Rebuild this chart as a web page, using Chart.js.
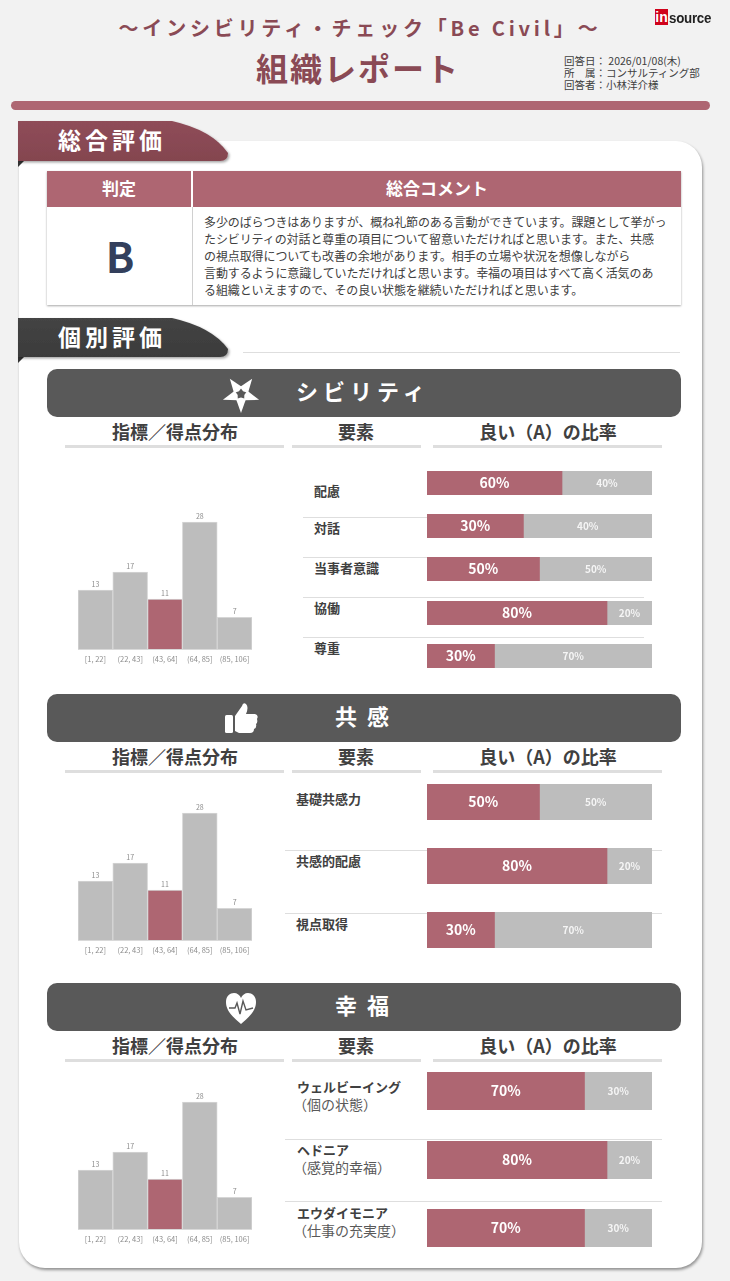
<!DOCTYPE html>
<html lang="ja">
<head>
<meta charset="utf-8">
<title>組織レポート</title>
<script src="https://cdn.jsdelivr.net/npm/chart.js@4/dist/chart.umd.min.js"></script>
<style>
  html,body{margin:0;padding:0;}
  body{width:730px;height:1281px;background:#f2f2f2;position:relative;overflow:hidden;font-family:"Noto Sans CJK JP","Noto Sans",sans-serif;color:#404040;}
  .abs{position:absolute;white-space:nowrap;}
  .ctr{transform:translate(-50%,-50%);}
  .mid{transform:translateY(-50%);}
  .card{position:absolute;left:19px;top:141px;width:683px;height:1127px;background:#fff;border-radius:26px;box-shadow:1px 2px 3px rgba(0,0,0,.4);}
  .rule{position:absolute;background:#dedede;}
  .band{position:absolute;left:47px;width:634px;height:48px;background:#595959;border-radius:10px;}
  .band-title{color:#fff;font-size:22px;font-weight:700;letter-spacing:5px;}
  .col-head{font-size:18px;font-weight:700;color:#404040;}
  .item{font-size:13px;font-weight:700;color:#404040;}
  .sub{font-size:14px;font-weight:400;color:#595959;}
  .meta{font-size:10.5px;line-height:12px;}
  canvas{position:absolute;display:block;}
  .tab-text{color:#fff;font-size:23px;font-weight:700;letter-spacing:4px;}
  .th{position:absolute;top:171px;height:36px;background:#ae6672;color:#fff;font-size:17px;font-weight:700;line-height:33px;text-align:center;}
  .comment{position:absolute;left:204px;top:213px;font-size:12px;line-height:17.1px;color:#404040;letter-spacing:-.1px;white-space:nowrap;}
</style>
</head>
<body>
<div class="card"></div>

<div class="abs ctr" style="left:360px;top:27px;font-size:20px;font-weight:700;color:#8a4a55;letter-spacing:3.8px;">〜インシビリティ・チェック「Be Civil」〜</div>
<div class="abs ctr" style="left:358px;top:67px;font-size:32px;font-weight:700;color:#8a4a55;letter-spacing:2px;">組織レポート</div>
<div class="abs meta" style="left:564px;top:55px;">回答日： 2026/01/08(木)<br>所　属：コンサルティング部<br>回答者：小林洋介様</div>
<div class="abs" style="left:655px;top:9px;width:13px;height:16px;background:#d0021b;color:#fff;font:700 14px/17px 'Liberation Sans';text-align:center;">in</div>
<div class="abs" style="left:669px;top:9px;font:700 15px/18px 'Liberation Sans Narrow','Liberation Sans';color:#222;letter-spacing:-.3px;transform:scaleX(.89);transform-origin:left center;">source</div>
<div class="abs" style="left:11px;top:101px;width:699px;height:9px;background:#ae6672;border-radius:5px;"></div>

<svg class="abs" style="left:0;top:0;" width="730" height="380" viewBox="0 0 730 380">
  <defs>
    <linearGradient id="tabRed" x1="0" y1="0" x2="0" y2="1"><stop offset="0" stop-color="#8f4d59"/><stop offset="1" stop-color="#84454f"/></linearGradient>
    <linearGradient id="tabDark" x1="0" y1="0" x2="0" y2="1"><stop offset="0" stop-color="#444"/><stop offset="1" stop-color="#3b3b3b"/></linearGradient>
    <filter id="tabShadow" x="-5%" y="-10%" width="112%" height="130%"><feDropShadow dx="1.5" dy="1.5" stdDeviation="1.2" flood-color="#000" flood-opacity=".35"/></filter>
  </defs>
  <path d="M18 161 L18 167 L24 161 Z" fill="#333"/>
  <path d="M18 121 L172 121 Q212 130 228 153 Q228 161 220 161 L18 161 Z" fill="url(#tabRed)" filter="url(#tabShadow)"/>
  <path d="M18 357 L18 363 L24 357 Z" fill="#333"/>
  <path d="M18 318 L172 318 Q212 327 228 349 Q228 357 220 357 L18 357 Z" fill="url(#tabDark)" filter="url(#tabShadow)"/>
</svg>
<div class="abs tab-text ctr" style="left:112px;top:139px;">総合評価</div>
<div class="abs tab-text ctr" style="left:112px;top:336px;">個別評価</div>
<div class="rule" style="left:243px;top:352px;width:437px;height:1px;"></div>

<div class="abs" style="left:47px;top:171px;width:634px;height:134px;box-shadow:0 1px 2px rgba(0,0,0,.35);"></div>
<div class="th" style="left:47px;width:144px;">判定</div>
<div class="th" style="left:193px;width:488px;">総合コメント</div>
<div class="rule" style="left:192px;top:207px;width:1px;height:98px;background:#d0d0d0;"></div>
<div class="abs ctr" style="left:120px;top:254px;font-size:42px;font-weight:700;color:#333f5c;">B</div>
<div class="comment">多少のばらつきはありますが、概ね礼節のある言動ができています。課題として挙がっ<br>たシビリティの対話と尊重の項目について留意いただければと思います。また、共感<br>の視点取得についても改善の余地があります。相手の立場や状況を想像しながら<br>言動するように意識していただければと思います。幸福の項目はすべて高く活気のあ<br>る組織といえますので、その良い状態を継続いただければと思います。</div>

<div id="report"></div>

<script>
(function(){
  const RED = '#ae6672';
  const GRAY = '#bdbdbd';

  // score histogram, same bins and counts in the three sections
  const histLabels = ['[1, 22]', '(22, 43]', '(43, 64]', '(64, 85]', '(85, 106]'];
  const civilityCounts = [13, 17, 11, 28, 7];
  const empathyCounts = [13, 17, 11, 28, 7];
  const happinessCounts = [13, 17, 11, 28, 7];

  const civilityItems = ['配慮', '対話', '当事者意識', '協働', '尊重'];
  const civilityGood = [60, 30, 50, 80, 30];
  const civilityOther = [40, 40, 50, 20, 70];

  const empathyItems = ['基礎共感力', '共感的配慮', '視点取得'];
  const empathyGood = [50, 80, 30];
  const empathyOther = [50, 20, 70];

  const happinessItems = ['ウェルビーイング', 'ヘドニア', 'エウダイモニア'];
  const happinessNotes = ['（個の状態）', '（感覚的幸福）', '（仕事の充実度）'];
  const happinessGood = [70, 80, 70];
  const happinessOther = [30, 20, 30];

  const root = document.getElementById('report');

  function el(cls, css, html){
    const d = document.createElement('div');
    d.className = cls; d.style.cssText = css;
    if(html) d.innerHTML = html;
    root.appendChild(d);
    return d;
  }

  function canvasAt(left, top, width, height){
    const wrap = el('abs', `left:${left}px;top:${top}px;width:${width}px;height:${height}px;`);
    const c = document.createElement('canvas');
    wrap.appendChild(c);
    return c;
  }

  // small count printed above each bar
  const countLabels = {
    id: 'countLabels',
    afterDatasetsDraw(chart){
      const ctx = chart.ctx;
      const values = chart.data.datasets[0].data;
      ctx.save();
      ctx.font = '7px "Noto Sans CJK JP"';
      ctx.fillStyle = '#8c8c8c';
      ctx.textAlign = 'center';
      ctx.textBaseline = 'bottom';
      chart.getDatasetMeta(0).data.forEach((bar, i)=> ctx.fillText(values[i], bar.x, bar.y - 2));
      ctx.restore();
    }
  };

  // percent text in the middle of each stacked segment
  const percentLabels = {
    id: 'percentLabels',
    afterDatasetsDraw(chart){
      const ctx = chart.ctx;
      ctx.save();
      ctx.fillStyle = '#fff';
      ctx.textAlign = 'center';
      ctx.textBaseline = 'middle';
      chart.data.datasets.forEach((ds, d)=>{
        const bar = chart.getDatasetMeta(d).data[0];
        ctx.font = d === 0 ? '700 14px "Noto Sans CJK JP"' : '700 10px "Noto Sans CJK JP"';
        ctx.globalAlpha = d === 0 ? 1 : 0.85;
        ctx.fillText(ds.data[0] + '%', (bar.base + bar.x) / 2, bar.y);
      });
      ctx.restore();
    }
  };

  function drawHistogram(baseline, counts){
    const height = 161;
    const c = canvasAt(78, baseline - 145, 174, height);
    new Chart(c, {
      type: 'bar',
      data: { labels: histLabels, datasets: [{
        data: counts,
        backgroundColor: counts.map((v, i)=> i === 2 ? RED : GRAY),
        borderColor: '#d6d6d6', borderWidth: 1,
        barPercentage: 1, categoryPercentage: 1
      }]},
      options: {
        responsive: true, maintainAspectRatio: false, animation: false,
        events: [],
        layout: { padding: 0 },
        plugins: { legend: { display: false }, tooltip: { enabled: false } },
        scales: {
          x: {
            afterFit: s=>{ s.height = 16; s.paddingLeft = 0; s.paddingRight = 0; },
            grid: { display: false, drawTicks: false },
            border: { color: '#d9d9d9' },
            ticks: { color: '#8c8c8c', font: { size: 7.5, family: '"Noto Sans CJK JP"' }, autoSkip: false, maxRotation: 0, padding: 6 }
          },
          y: { display: false, min: 0, max: 32 }
        }
      },
      plugins: [countLabels]
    });
  }

  function drawRatio(top, height, label, good, other){
    const c = canvasAt(427, top, 225, height);
    new Chart(c, {
      type: 'bar',
      data: { labels: [label], datasets: [
        { data: [good], backgroundColor: RED, barPercentage: 1, categoryPercentage: 1, borderWidth: 0 },
        { data: [other], backgroundColor: GRAY, barPercentage: 1, categoryPercentage: 1, borderWidth: 0 }
      ]},
      options: {
        indexAxis: 'y', responsive: true, maintainAspectRatio: false, animation: false,
        events: [],
        layout: { padding: 0 },
        plugins: { legend: { display: false }, tooltip: { enabled: false } },
        scales: {
          x: { display: false, stacked: true, min: 0, max: good + other },
          y: { display: false, stacked: true }
        }
      },
      plugins: [percentLabels]
    });
  }

  function sectionHead(bandTop, title, titleLeft, letterGap, icon){
    el('band', `top:${bandTop}px;`);
    el('abs', `left:${titleLeft}px;top:${bandTop + 21}px;transform:translateY(-50%);`, `<span class="band-title" style="letter-spacing:${letterGap}px">${title}</span>`);
    el('abs', `left:222px;top:${bandTop + 6}px;width:38px;height:38px;`, icon);
    const head = bandTop + 62, line = bandTop + 76;
    el('abs ctr col-head', `left:175px;top:${head}px;`, '指標／得点分布');
    el('abs ctr col-head', `left:356px;top:${head}px;`, '要素');
    el('abs ctr col-head', `left:548px;top:${head}px;`, '良い（A）の比率');
    el('rule', `left:65px;top:${line}px;width:219px;height:3px;`);
    el('rule', `left:292px;top:${line}px;width:129px;height:3px;`);
    el('rule', `left:433px;top:${line}px;width:229px;height:3px;`);
  }

  const starArm = '<path d="M19 0 L24 14 L19 15.5 L14 14 Z" fill="#fff"/>';
  const starIcon = '<svg width="38" height="38" viewBox="0 0 38 38"><g transform="rotate(180 19 19)">' +
    [0, 72, 144, 216, 288].map(a=> `<g transform="rotate(${a} 19 19)">${starArm}</g>`).join('') + '</g></svg>';
  const thumbIcon = '<svg width="38" height="38" viewBox="0 0 38 38"><rect x="3" y="15" width="8" height="18" rx="1.5" fill="#fff"/><path d="M13 16 L20 6 Q21 2 24 4 Q27 7 24 14 L33 14 Q37 15 35 19 Q36 23 34 24 Q35 28 32 29 Q32 33 28 33 L17 33 L13 31 Z" fill="#fff"/></svg>';
  const heartIcon = '<svg width="38" height="38" viewBox="0 0 38 38"><path d="M19 35 C8 26 4 20 4 13 C4 7 8 4 12 4 C15 4 18 6 19 9 C20 6 23 4 26 4 C30 4 34 7 34 13 C34 20 30 26 19 35 Z" fill="#fff"/><path d="M7 19 L13 19 L15 14 L18 25 L21 12 L24 21 L31 19" fill="none" stroke="#595959" stroke-width="1.4"/></svg>';

  // シビリティ
  sectionHead(369, 'シビリティ', 296, 5, starIcon);
  drawHistogram(649, civilityCounts);
  const civilityBarTops = [471, 514, 557, 601, 644];
  const civilityLabelY = [490, 527, 567, 607, 647];
  civilityItems.forEach((name, i)=>{
    el('abs mid item', `left:314px;top:${civilityLabelY[i]}px;`, name);
    if(i > 0) el('rule', `left:303px;top:${[517, 557, 597, 637][i - 1]}px;width:341px;height:1px;`);
  });
  civilityItems.forEach((name, i)=> drawRatio(civilityBarTops[i], 24, name, civilityGood[i], civilityOther[i]));

  // 共感
  sectionHead(694, '共感', 335, 10, thumbIcon);
  drawHistogram(940, empathyCounts);
  const empathyBarTops = [784, 848, 912];
  const empathyLabelY = [798, 860, 923];
  empathyItems.forEach((name, i)=>{
    el('abs mid item', `left:296px;top:${empathyLabelY[i]}px;`, name);
    if(i > 0) el('rule', `left:285px;top:${[850, 913][i - 1]}px;width:377px;height:1px;`);
  });
  empathyItems.forEach((name, i)=> drawRatio(empathyBarTops[i], 36, name, empathyGood[i], empathyOther[i]));

  // 幸福
  sectionHead(983, '幸福', 335, 10, heartIcon);
  drawHistogram(1229, happinessCounts);
  const happinessBarTops = [1072, 1141, 1209];
  const happinessLabelY = [1086, 1149, 1212];
  happinessItems.forEach((name, i)=>{
    el('abs mid item', `left:297px;top:${happinessLabelY[i]}px;`, name);
    el('abs mid sub', `left:293px;top:${happinessLabelY[i] + 18}px;line-height:16px;`, happinessNotes[i]);
    if(i > 0) el('rule', `left:285px;top:${[1139, 1201][i - 1]}px;width:377px;height:1px;`);
  });
  happinessItems.forEach((name, i)=> drawRatio(happinessBarTops[i], 38, name, happinessGood[i], happinessOther[i]));
})();
</script>
</body>
</html>
